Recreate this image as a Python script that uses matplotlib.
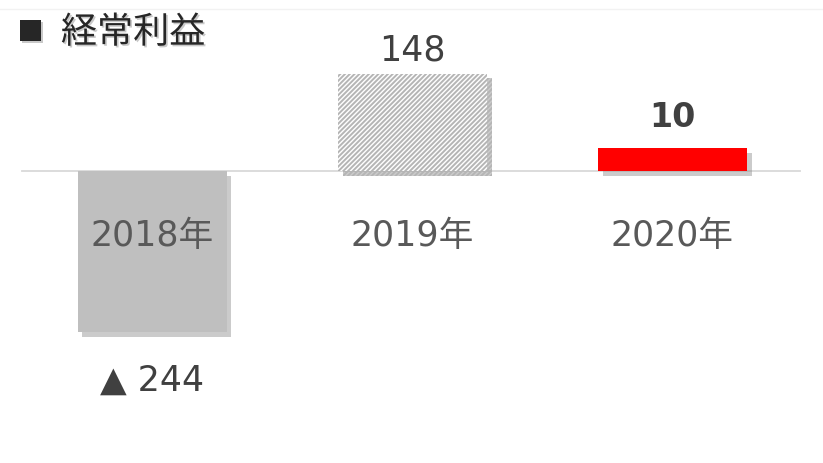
import matplotlib.pyplot as plt
import matplotlib.patheffects as pe

plt.rcParams['font.family'] = ['DejaVu Sans', 'Noto Sans CJK JP']
plt.rcParams['hatch.linewidth'] = 1.4

years = ["2018年", "2019年", "2020年"]
values = [-244, 148, 10]
value_labels = ["▲ 244", "148", "10"]
title = "経常利益"

min_shown = 35  # small bars are drawn thicker so they stay visible
shown = [v if abs(v) >= min_shown else min_shown for v in values]

fig = plt.figure(figsize=(8.23, 4.64), dpi=100)
ax = fig.add_axes([0, 0, 1, 1])
ax.set_xlim(-0.585, 2.58)
ax.set_ylim(-442, 261)
ax.axis("off")

shadow = [pe.SimplePatchShadow(offset=(3.5, -3.5), shadow_rgbFace="#8c8c8c", alpha=0.45), pe.Normal()]

x = list(range(len(years)))
bars = ax.bar(x, shown, width=0.573, linewidth=0, zorder=3)
bars[0].set_facecolor("#bfbfbf")
bars[1].set_facecolor("white")
bars[1].set_edgecolor("#b5b5b5")
bars[1].set_hatch("///////")
bars[2].set_facecolor("#ff0000")
for b in bars:
    b.set_path_effects(shadow)

ax.plot([-0.5, 2.49], [0, 0], color="#d9d9d9", lw=1.3, zorder=2)

for i, yr in enumerate(years):
    ax.text(x[i], -97, yr, ha="center", va="center", fontsize=25, color="#595959", zorder=5)

for i, (v, lab) in enumerate(zip(shown, value_labels)):
    if v < 0:
        ax.text(x[i], v - 72, lab, ha="center", va="center", fontsize=25, color="#404040")
    elif i == 2:
        ax.text(x[i], v + 48, lab, ha="center", va="center", fontsize=24, color="#404040",
                fontweight="bold")
    else:
        ax.text(x[i], v + 37, lab, ha="center", va="center", fontsize=25, color="#404040")

title_fx = [pe.SimplePatchShadow(offset=(1.2, -1.2), alpha=0.22), pe.Normal()]
fig.text(0.021, 0.926, "■", ha="left", va="center", fontsize=19, color="#262626",
         family=['Noto Sans CJK JP', 'DejaVu Sans'], path_effects=title_fx)
fig.text(0.074, 0.927, title, ha="left", va="center", fontsize=26, color="#262626",
         family=['Noto Sans CJK JP', 'DejaVu Sans'], path_effects=title_fx)
fig.add_artist(plt.Line2D([0, 1], [0.978, 0.978], color="#f2f2f2", lw=1))

fig.savefig("out.png", dpi=100)
